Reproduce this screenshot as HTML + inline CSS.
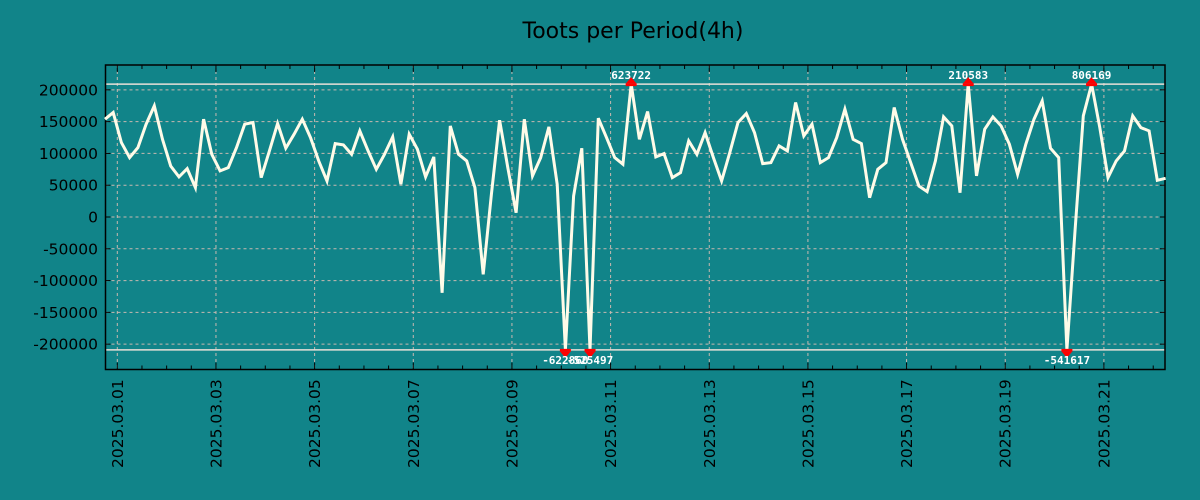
<!DOCTYPE html>
<html><head><meta charset="utf-8"><style>
body{margin:0;background:#11848a;}
svg{display:block;font-family:"DejaVu Sans","Liberation Sans",sans-serif;}
</style></head><body>
<svg id="chart" width="1200" height="500" viewBox="0 0 1200 500">
<rect width="1200" height="500" fill="#118489"/>
<text x="633" y="38" text-anchor="middle" font-size="22" fill="#000">Toots per Period(4h)</text>
<g id="grid"></g><g id="axes"></g><g id="series"></g><g id="marks"></g>
</svg>
<script>
const values = [153800,164300,117000,93400,109200,146000,174800,122300,80300,63000,76100,46200,153800,98700,72500,77700,109200,146000,148600,61900,104000,147000,108200,130200,153800,124900,88200,56700,115500,113400,98700,135500,104000,75100,98700,126000,51500,130200,106600,63000,94500,-119200,143300,98700,88200,46200,-90300,35700,152300,77700,6800,153800,64600,93400,141800,51500,-622860,33100,108200,-525497,155400,124900,93400,83000,623722,122300,165900,94500,99700,61900,69800,119700,98700,132800,93400,56700,101300,148600,162700,132800,84000,85600,111800,104000,180100,127600,146000,85600,93400,124900,169600,122300,115500,30400,75100,85600,172200,122300,85600,48800,39900,88200,157500,143300,38300,210583,64600,138100,157500,143300,114400,67200,114400,153800,182700,108200,93400,-541617,-20000,159100,806169,140700,61900,88200,104000,159100,140700,135500,57800,60900];
const yTicks = [200000,150000,100000,50000,0,-50000,-100000,-150000,-200000];
const xTickLabels = ["2025.03.01","2025.03.03","2025.03.05","2025.03.07","2025.03.09","2025.03.11","2025.03.13","2025.03.15","2025.03.17","2025.03.19","2025.03.21"];
const clipLimit = 209000;
const NS="http://www.w3.org/2000/svg";
const L=105.5,R=1165,T=65,B=369.5;
const X0=117.3, DAY=49.33, PER=DAY/6;
function xOfIndex(i){return X0+(i-1.5)*PER;}
function xOfDay(d){return X0+d*DAY;}
function y(v){return 217-v/1573;}
function mk(tag,attrs,parent){const e=document.createElementNS(NS,tag);for(const k in attrs)e.setAttribute(k,attrs[k]);parent.appendChild(e);return e;}
const grid=document.getElementById('grid'),axes=document.getElementById('axes'),series=document.getElementById('series'),marks=document.getElementById('marks');
// y grid + labels
yTicks.forEach(v=>{
  const g=mk('line',{x1:L,x2:R,y1:y(v),y2:y(v),stroke:'#c8b8b0','stroke-width':1,'stroke-dasharray':'3,3'},grid);
  
  
  const t=mk('text',{x:98,y:y(v)+5.5,'text-anchor':'end','font-size':15.5,fill:'#000'},axes);
  t.textContent=v;
  
  
  mk('line',{x1:L,x2:L+5,y1:y(v),y2:y(v),stroke:'#000'},axes);
  mk('line',{x1:R-5,x2:R,y1:y(v),y2:y(v),stroke:'#000'},axes);
});
// x grid + labels
xTickLabels.forEach((lab,k)=>{
  const x=xOfDay(2*k);
  const g=mk('line',{x1:x,x2:x,y1:T,y2:B,stroke:'#c8b8b0','stroke-width':1,'stroke-dasharray':'3,3'},grid);
  
  
  const t=mk('text',{transform:`translate(${x+5.5},468) rotate(-90)`,'font-size':15.5,fill:'#000'},axes);
  t.textContent=lab;
  
  
});
for(let h=0;h<=44;h++){const x=X0+(h-0)*DAY/2; if(x<L||x>R)continue; const len=h%4==0?7:4;
  mk('line',{x1:x,x2:x,y1:B,y2:B-len,stroke:'#000'},axes); mk('line',{x1:x,x2:x,y1:T,y2:T+len,stroke:'#000'},axes);}
// clip lines
[clipLimit,-clipLimit].forEach(v=>{const l=mk('line',{x1:L,x2:R,y1:y(v),y2:y(v),stroke:'#e8e0d8','stroke-width':1.5},grid);
  
  });
// series
const pts=values.map((v,i)=>xOfIndex(i).toFixed(1)+','+y(Math.max(-clipLimit,Math.min(clipLimit,v))).toFixed(1)).join(' ');
const pl=mk('polyline',{points:pts,fill:'none',stroke:'#fffbe8','stroke-width':3,'stroke-linejoin':'miter'},series);


// clipped markers
values.forEach((v,i)=>{
  if(Math.abs(v)<=clipLimit)return;
  const x=xOfIndex(i), up=v>0, yy=y(up?clipLimit:-clipLimit);
  const g=mk('g',{},marks);
  
  
  mk('rect',{x:x-5.5,y:up?yy-1:yy-1,width:11,height:3,fill:'#f00'},g);
  mk('polygon',{points:up?`${x-5},${yy-1} ${x+5},${yy-1} ${x},${yy-7}`:`${x-5},${yy+2} ${x+5},${yy+2} ${x},${yy+8}`,fill:'#f00'},g);
  const t=mk('text',{x:x,y:up?yy-5:yy+14,'text-anchor':'middle','font-size':11,'font-weight':'bold','font-family':'"DejaVu Sans Mono","Liberation Mono",monospace',fill:'#fff'},g);
  t.textContent=v;
});
const frame=mk('rect',{x:L,y:T,width:R-L,height:B-T,fill:'none',stroke:'#000','stroke-width':1.5},axes);


</script>
</body></html>
